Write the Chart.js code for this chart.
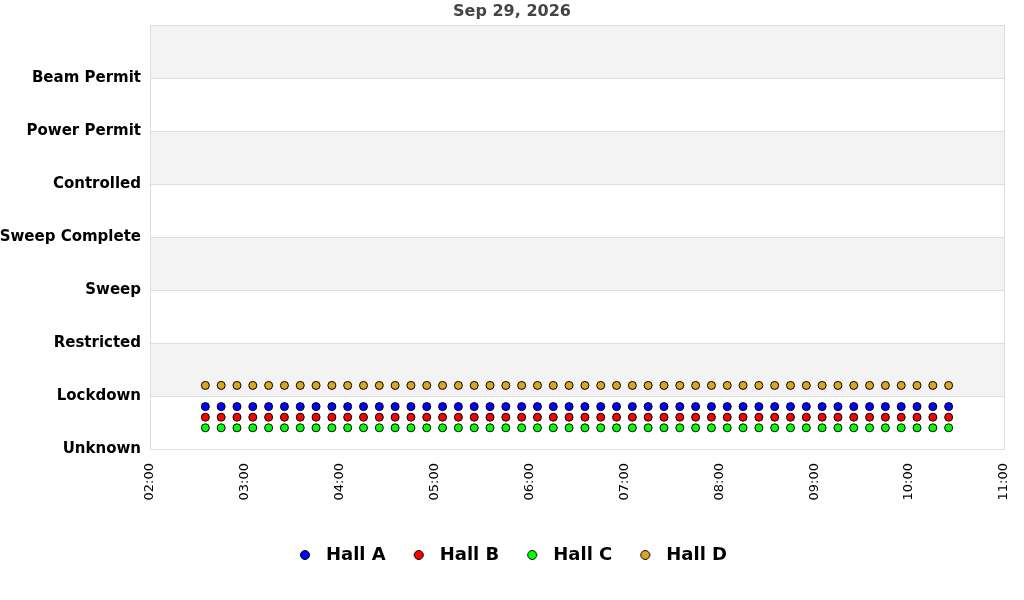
<!DOCTYPE html>
<html><head><meta charset="utf-8">
<script src="https://cdn.jsdelivr.net/npm/chart.js@4/dist/chart.umd.min.js"></script>
<style>html,body{margin:0;padding:0;background:#fff}#wrap{width:1024px;height:600px}</style>
</head><body><div id="wrap"><canvas id="c" width="1024" height="600"></canvas></div>
<script>
const title = "Sep 29, 2026";
const stateLabels = ["Unknown","Lockdown","Restricted","Sweep","Sweep Complete","Controlled","Power Permit","Beam Permit",""];
const xTickLabels = ["02:00","03:00","04:00","05:00","06:00","07:00","08:00","09:00","10:00","11:00"];
const times = ["02:35","02:45","02:55","03:05","03:15","03:25","03:35","03:45","03:55","04:05","04:15","04:25","04:35","04:45","04:55","05:05","05:15","05:25","05:35","05:45","05:55","06:05","06:15","06:25","06:35","06:45","06:55","07:05","07:15","07:25","07:35","07:45","07:55","08:05","08:15","08:25","08:35","08:45","08:55","09:05","09:15","09:25","09:35","09:45","09:55","10:05","10:15","10:25"];
const hallA = [0.8,0.8,0.8,0.8,0.8,0.8,0.8,0.8,0.8,0.8,0.8,0.8,0.8,0.8,0.8,0.8,0.8,0.8,0.8,0.8,0.8,0.8,0.8,0.8,0.8,0.8,0.8,0.8,0.8,0.8,0.8,0.8,0.8,0.8,0.8,0.8,0.8,0.8,0.8,0.8,0.8,0.8,0.8,0.8,0.8,0.8,0.8,0.8];
const hallB = [0.6,0.6,0.6,0.6,0.6,0.6,0.6,0.6,0.6,0.6,0.6,0.6,0.6,0.6,0.6,0.6,0.6,0.6,0.6,0.6,0.6,0.6,0.6,0.6,0.6,0.6,0.6,0.6,0.6,0.6,0.6,0.6,0.6,0.6,0.6,0.6,0.6,0.6,0.6,0.6,0.6,0.6,0.6,0.6,0.6,0.6,0.6,0.6];
const hallC = [0.4,0.4,0.4,0.4,0.4,0.4,0.4,0.4,0.4,0.4,0.4,0.4,0.4,0.4,0.4,0.4,0.4,0.4,0.4,0.4,0.4,0.4,0.4,0.4,0.4,0.4,0.4,0.4,0.4,0.4,0.4,0.4,0.4,0.4,0.4,0.4,0.4,0.4,0.4,0.4,0.4,0.4,0.4,0.4,0.4,0.4,0.4,0.4];
const hallD = [1.2,1.2,1.2,1.2,1.2,1.2,1.2,1.2,1.2,1.2,1.2,1.2,1.2,1.2,1.2,1.2,1.2,1.2,1.2,1.2,1.2,1.2,1.2,1.2,1.2,1.2,1.2,1.2,1.2,1.2,1.2,1.2,1.2,1.2,1.2,1.2,1.2,1.2,1.2,1.2,1.2,1.2,1.2,1.2,1.2,1.2,1.2,1.2];

function toMin(t){const p=t.split(":");return (+p[0])*60+(+p[1]);}
function pts(vals){return times.map((t,i)=>({x:toMin(t),y:vals[i]}));}
function ds(label,vals,color){return {label,data:pts(vals),backgroundColor:color,borderColor:"#000",borderWidth:1,pointRadius:4,pointHoverRadius:4,showLine:false};}

function legendDot(color){
  const cv=document.createElement("canvas");cv.width=20;cv.height=12;
  const c=cv.getContext("2d");
  c.beginPath();c.arc(7,6,4.5,0,Math.PI*2);c.fillStyle=color;c.fill();
  c.lineWidth=1;c.strokeStyle="#000";c.stroke();
  return cv;
}

const bands = {
  id:"bands",
  afterLayout(chart){
    const lg=chart.legend;
    if(lg){lg.left+=11;lg.right+=11;lg.adjustHitBoxes();}
    const tb=chart.titleBlock;
    if(tb){tb.left+=10;tb.right+=10;}
  },
  beforeDraw(chart){
    const {ctx,chartArea:a,scales:{y}} = chart;
    ctx.save();
    ctx.fillStyle="#f3f3f3";
    for(let v=1; v<8; v+=2){
      const top=y.getPixelForValue(v+1), bot=y.getPixelForValue(v);
      ctx.fillRect(a.left,top,a.right-a.left,bot-top);
    }
    ctx.restore();
  },
  beforeDatasetsDraw(chart){
    const {ctx,chartArea:a} = chart;
    ctx.save();ctx.strokeStyle="#dddddd";ctx.lineWidth=1;
    ctx.strokeRect(Math.round(a.left)+0.5,Math.round(a.top)+0.5,Math.round(a.right-a.left),Math.round(a.bottom-a.top));
    ctx.restore();
  }
};

new Chart(document.getElementById("c"),{
  type:"scatter",
  data:{datasets:[ds("Hall A",hallA,"#0000ff"),ds("Hall B",hallB,"#ff0000"),ds("Hall C",hallC,"#00ff00"),ds("Hall D",hallD,"#daa520")]},
  options:{
    responsive:false,animation:false,
    layout:{padding:{left:0,right:20,top:0,bottom:26}},
    plugins:{
      title:{display:true,text:title,color:"#444",font:{family:"DejaVu Sans",size:16,weight:"bold"},padding:{top:2,bottom:4}},
      legend:{position:"bottom",labels:{usePointStyle:true,boxWidth:18,boxHeight:7,padding:27,color:"#000",font:{family:"DejaVu Sans",size:18,weight:"bold"},
        generateLabels(chart){
          const items=Chart.defaults.plugins.legend.labels.generateLabels(chart);
          items.forEach(it=>{it.pointStyle=legendDot(chart.data.datasets[it.datasetIndex].backgroundColor);});
          return items;
        }}},
      tooltip:{enabled:false}
    },
    scales:{
      x:{type:"linear",min:120,max:660,
        grid:{display:false},border:{display:false},
        afterBuildTicks(s){s.ticks=xTickLabels.map(l=>({value:toMin(l)}));},
        ticks:{stepSize:60,minRotation:90,maxRotation:90,color:"#000",font:{family:"DejaVu Sans",size:13},padding:6,
          callback(v){const h=Math.floor(v/60),m=v%60;return String(h).padStart(2,"0")+":"+String(m).padStart(2,"0");}},
        afterFit(s){s.height=70;s.paddingLeft=0;s.paddingRight=0;}
      },
      y:{type:"linear",min:0,max:8,
        grid:{color:"#dddddd",drawTicks:false},border:{display:false},
        afterBuildTicks(s){s.ticks=stateLabels.map((l,i)=>({value:i}));},
        ticks:{stepSize:1,color:"#000",padding:9,font:{family:"DejaVu Sans",size:15,weight:"bold"},callback(v){return stateLabels[v];}},
        afterFit(s){s.width=150;}
      }
    }
  },
  plugins:[bands]
});
</script></body></html>
